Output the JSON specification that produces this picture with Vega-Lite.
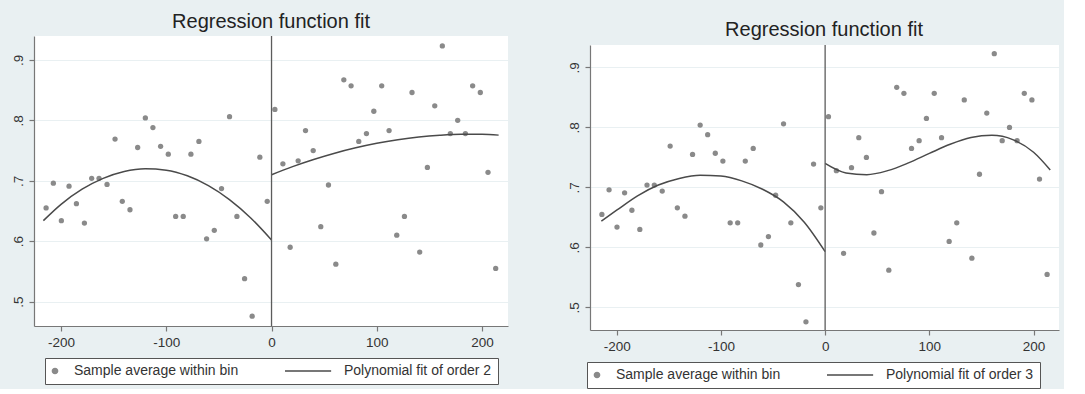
{
  "$schema": "https://vega.github.io/schema/vega-lite/v6.json",
  "background": "#e9f0f2",
  "padding": {"left": 11, "top": 12, "right": 5, "bottom": 0},
  "spacing": 59,
  "resolve": {"scale": {"color": "independent", "shape": "independent", "size": "independent"}, "legend": {"color": "independent", "shape": "independent", "size": "independent"}},
  "datasets": {
    "bins": [
      {"x": -214.2, "y": 0.655}, {"x": -207.3, "y": 0.696}, {"x": -199.7, "y": 0.634}, {"x": -192.4, "y": 0.691},
      {"x": -185.4, "y": 0.662}, {"x": -177.8, "y": 0.630}, {"x": -170.9, "y": 0.704}, {"x": -163.9, "y": 0.704},
      {"x": -156.3, "y": 0.694}, {"x": -148.7, "y": 0.769}, {"x": -141.8, "y": 0.666}, {"x": -134.5, "y": 0.652},
      {"x": -127.2, "y": 0.755}, {"x": -119.9, "y": 0.804}, {"x": -112.7, "y": 0.788}, {"x": -105.4, "y": 0.757},
      {"x": -98.1, "y": 0.744}, {"x": -91.1, "y": 0.641}, {"x": -83.9, "y": 0.641}, {"x": -76.6, "y": 0.744},
      {"x": -69.0, "y": 0.765}, {"x": -61.7, "y": 0.604}, {"x": -54.4, "y": 0.618}, {"x": -47.5, "y": 0.687},
      {"x": -39.9, "y": 0.806}, {"x": -32.9, "y": 0.641}, {"x": -25.6, "y": 0.538}, {"x": -18.4, "y": 0.476},
      {"x": -11.1, "y": 0.739}, {"x": -4.1, "y": 0.666},
      {"x": 3.2, "y": 0.818}, {"x": 10.8, "y": 0.728}, {"x": 17.7, "y": 0.590}, {"x": 25.3, "y": 0.733},
      {"x": 32.3, "y": 0.783}, {"x": 39.6, "y": 0.750}, {"x": 46.8, "y": 0.624}, {"x": 54.1, "y": 0.693},
      {"x": 61.1, "y": 0.562}, {"x": 68.7, "y": 0.867}, {"x": 75.6, "y": 0.857}, {"x": 82.9, "y": 0.765},
      {"x": 90.2, "y": 0.778}, {"x": 97.2, "y": 0.815}, {"x": 104.7, "y": 0.857}, {"x": 111.7, "y": 0.783},
      {"x": 119.0, "y": 0.610}, {"x": 126.3, "y": 0.641}, {"x": 133.5, "y": 0.846}, {"x": 140.8, "y": 0.582},
      {"x": 148.1, "y": 0.722}, {"x": 155.1, "y": 0.824}, {"x": 162.3, "y": 0.923}, {"x": 169.9, "y": 0.778},
      {"x": 176.9, "y": 0.800}, {"x": 184.2, "y": 0.778}, {"x": 191.1, "y": 0.857}, {"x": 198.4, "y": 0.846},
      {"x": 205.7, "y": 0.714}, {"x": 213.0, "y": 0.555}
    ],
    "fit2": [
      {"side": "L", "x": -216.8, "y": 0.634}, {"side": "L", "x": -200, "y": 0.661}, {"side": "L", "x": -180, "y": 0.686},
      {"side": "L", "x": -160, "y": 0.704}, {"side": "L", "x": -140, "y": 0.7154}, {"side": "L", "x": -120, "y": 0.7199},
      {"side": "L", "x": -100, "y": 0.7175}, {"side": "L", "x": -80, "y": 0.7082}, {"side": "L", "x": -60, "y": 0.692},
      {"side": "L", "x": -40, "y": 0.6689}, {"side": "L", "x": -20, "y": 0.6389}, {"side": "L", "x": 0, "y": 0.602},
      {"side": "R", "x": 0, "y": 0.710}, {"side": "R", "x": 20, "y": 0.7234}, {"side": "R", "x": 40, "y": 0.7352},
      {"side": "R", "x": 60, "y": 0.7456}, {"side": "R", "x": 80, "y": 0.7545}, {"side": "R", "x": 100, "y": 0.762},
      {"side": "R", "x": 120, "y": 0.7679}, {"side": "R", "x": 140, "y": 0.7724}, {"side": "R", "x": 160, "y": 0.7753},
      {"side": "R", "x": 180, "y": 0.7768}, {"side": "R", "x": 200, "y": 0.7768}, {"side": "R", "x": 215.8, "y": 0.7755}
    ],
    "fit3": [
      {"side": "L", "x": -214.7, "y": 0.644}, {"side": "L", "x": -200, "y": 0.662}, {"side": "L", "x": -180, "y": 0.686},
      {"side": "L", "x": -160, "y": 0.704}, {"side": "L", "x": -140, "y": 0.715}, {"side": "L", "x": -120, "y": 0.7205},
      {"side": "L", "x": -100, "y": 0.719}, {"side": "L", "x": -80, "y": 0.711}, {"side": "L", "x": -60, "y": 0.697},
      {"side": "L", "x": -40, "y": 0.676}, {"side": "L", "x": -20, "y": 0.642}, {"side": "L", "x": 0, "y": 0.593},
      {"side": "R", "x": 0, "y": 0.740}, {"side": "R", "x": 20, "y": 0.7241}, {"side": "R", "x": 40, "y": 0.7213},
      {"side": "R", "x": 60, "y": 0.728}, {"side": "R", "x": 80, "y": 0.741}, {"side": "R", "x": 100, "y": 0.7567},
      {"side": "R", "x": 120, "y": 0.7719}, {"side": "R", "x": 140, "y": 0.7831}, {"side": "R", "x": 160, "y": 0.7869},
      {"side": "R", "x": 180, "y": 0.7798}, {"side": "R", "x": 200, "y": 0.7586}, {"side": "R", "x": 216, "y": 0.7291}
    ]
  },
  "hconcat": [
    {
      "width": 474,
      "height": 290,
      "title": {"text": "Regression function fit", "frame": "group"},
      "layer": [
        {
          "data": {"name": "bins"},
          "mark": {"type": "point", "filled": true, "opacity": 1},
          "encoding": {
            "x": {"field": "x", "type": "quantitative", "scale": {"domain": [-225.7, 224.7], "nice": false, "zero": false},
                  "axis": {"values": [-200, -100, 0, 100, 200], "labelExpr": "'' + datum.value", "title": null, "grid": false}},
            "y": {"field": "y", "type": "quantitative", "scale": {"domain": [0.4597, 0.9395], "nice": false, "zero": false},
                  "axis": {"values": [0.5, 0.6, 0.7, 0.8, 0.9], "labelExpr": "replace(format(datum.value, '.1f'), '0.', '.')", "labelAngle": -90, "labelAlign": "center", "labelBaseline": "bottom", "title": null, "grid": true}},
            "color": {"datum": "Sample average within bin", "type": "nominal",
                      "scale": {"domain": ["Sample average within bin", "Polynomial fit of order 2"], "range": ["#8a8a8a", "#4a4a4a"]},
                      "legend": {"title": null, "orient": "bottom", "direction": "horizontal", "offset": 9, "padding": 6,
                                 "strokeColor": "#555555", "fillColor": "#ffffff", "cornerRadius": 0, "clipHeight": 14,
                                 "labelFontSize": 14, "labelColor": "#333333", "labelLimit": 400, "labelOffset": 12,
                                 "columnPadding": 46, "symbolOffset": -3, "symbolStrokeWidth": 1.4, "symbolOpacity": 1}},
            "shape": {"datum": "Sample average within bin", "type": "nominal",
                      "scale": {"domain": ["Sample average within bin", "Polynomial fit of order 2"], "range": ["circle", "M-1,0H1"]}},
            "size": {"datum": "Sample average within bin", "type": "nominal",
                     "scale": {"domain": ["Sample average within bin", "Polynomial fit of order 2"], "range": [28, 2330], "padding": 0}}
          }
        },
        {
          "data": {"name": "fit2"},
          "mark": {"type": "line", "strokeWidth": 1.5, "interpolate": "monotone"},
          "encoding": {
            "x": {"field": "x", "type": "quantitative"},
            "y": {"field": "y", "type": "quantitative"},
            "detail": {"field": "side"},
            "color": {"datum": "Polynomial fit of order 2", "type": "nominal"}
          }
        },
        {
          "data": {"values": [{}]},
          "mark": {"type": "rule", "color": "#5c5c5c", "strokeWidth": 1.3},
          "encoding": {"x": {"datum": 0, "type": "quantitative"}}
        }
      ]
    },
    {
      "title": {"text": "Regression function fit", "offset": -3.7, "dx": 11},
      "spacing": 0,
      "vconcat": [
        {"width": 1, "height": 7.5, "data": {"values": []}, "mark": "point", "view": {"fill": null, "stroke": null}},
        {
          "width": 469,
          "height": 285,
          "layer": [
            {
              "data": {"name": "bins"},
              "mark": {"type": "point", "filled": true, "opacity": 1},
              "encoding": {
                "x": {"field": "x", "type": "quantitative", "scale": {"domain": [-225.6, 224.4], "nice": false, "zero": false},
                      "axis": {"values": [-200, -100, 0, 100, 200], "labelExpr": "'' + datum.value", "title": null, "grid": false}},
                "y": {"field": "y", "type": "quantitative", "scale": {"domain": [0.4623, 0.9375], "nice": false, "zero": false},
                      "axis": {"values": [0.5, 0.6, 0.7, 0.8, 0.9], "labelExpr": "replace(format(datum.value, '.1f'), '0.', '.')", "labelAngle": -90, "labelAlign": "center", "labelBaseline": "bottom", "title": null, "grid": true}},
                "color": {"datum": "Sample average within bin", "type": "nominal",
                          "scale": {"domain": ["Sample average within bin", "Polynomial fit of order 3"], "range": ["#8a8a8a", "#4a4a4a"]},
                          "legend": {"title": null, "orient": "bottom", "direction": "horizontal", "offset": 9, "padding": 6,
                                     "strokeColor": "#555555", "fillColor": "#ffffff", "cornerRadius": 0, "clipHeight": 14,
                                     "labelFontSize": 14, "labelColor": "#333333", "labelLimit": 400, "labelOffset": 12,
                                     "columnPadding": 46, "symbolOffset": -3, "symbolStrokeWidth": 1.4, "symbolOpacity": 1}},
                "shape": {"datum": "Sample average within bin", "type": "nominal",
                          "scale": {"domain": ["Sample average within bin", "Polynomial fit of order 3"], "range": ["circle", "M-1,0H1"]}},
                "size": {"datum": "Sample average within bin", "type": "nominal",
                         "scale": {"domain": ["Sample average within bin", "Polynomial fit of order 3"], "range": [28, 2330], "padding": 0}}
              }
            },
            {
              "data": {"name": "fit3"},
              "mark": {"type": "line", "strokeWidth": 1.5, "interpolate": "monotone"},
              "encoding": {
                "x": {"field": "x", "type": "quantitative"},
                "y": {"field": "y", "type": "quantitative"},
                "detail": {"field": "side"},
                "color": {"datum": "Polynomial fit of order 3", "type": "nominal"}
              }
            },
            {
              "data": {"values": [{}]},
              "mark": {"type": "rule", "color": "#5c5c5c", "strokeWidth": 1.3},
              "encoding": {"x": {"datum": 0, "type": "quantitative"}}
            }
          ]
        }
      ]
    }
  ],
  "config": {
    "font": "Liberation Sans",
    "view": {"fill": "#ffffff", "stroke": null},
    "axis": {"domainColor": "#777777", "domainWidth": 1.2, "tickColor": "#777777", "tickWidth": 1.2, "tickSize": 5,
             "labelColor": "#333333", "labelFontSize": 13.5, "labelPadding": 4, "gridColor": "#e9f0f2", "gridWidth": 1.2},
    "title": {"fontSize": 20, "fontWeight": "normal", "color": "#222222", "anchor": "middle", "offset": 3},
    "legend": {"layout": {"bottom": {"anchor": "middle"}}}
  }
}
